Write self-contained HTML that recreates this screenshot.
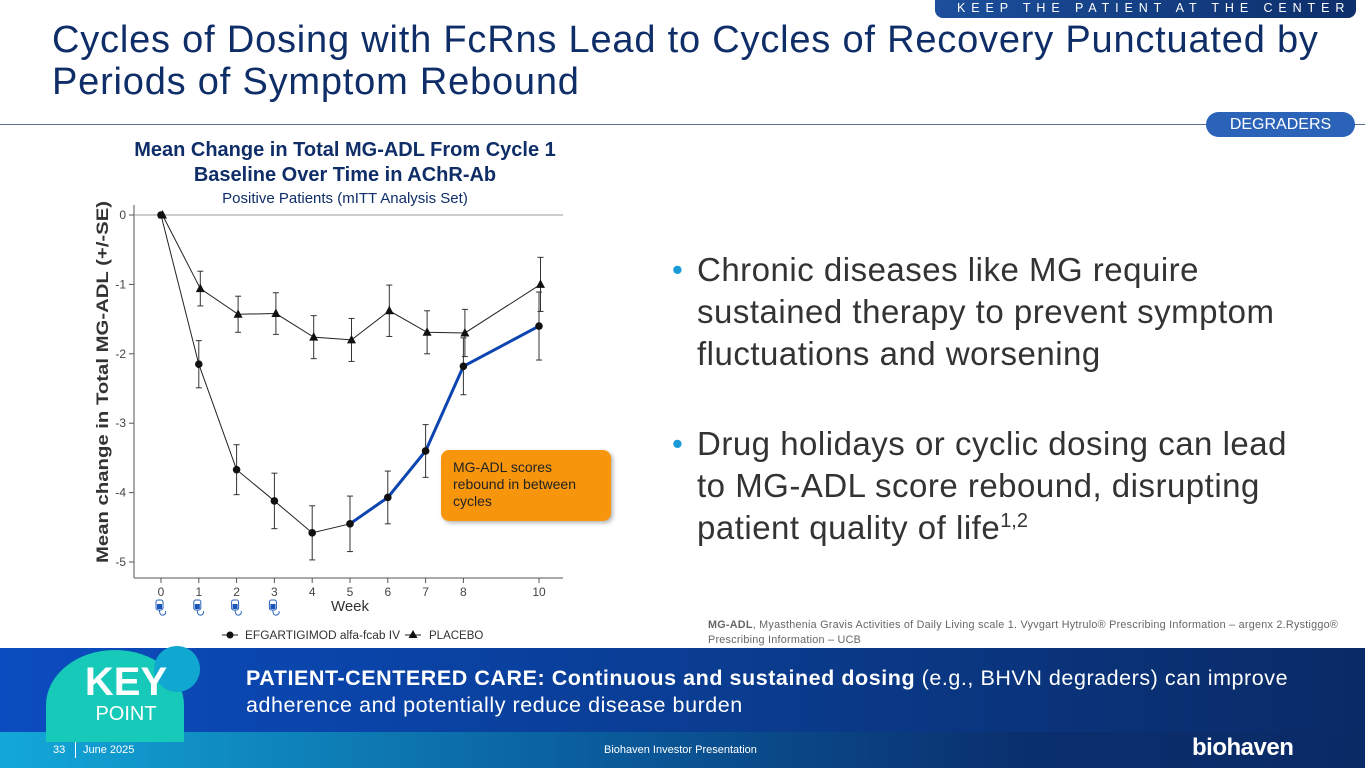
<!DOCTYPE html>
<html><head><meta charset="utf-8">
<style>
*{margin:0;padding:0;box-sizing:border-box}
body{width:1365px;height:768px;overflow:hidden;background:#fff;font-family:"Liberation Sans",Arial,sans-serif;position:relative}
.abs{position:absolute}
</style></head><body>
<div class="abs" style="left:935px;top:0;width:421px;height:18px;background:linear-gradient(90deg,#1c4f9c,#0d2f6b);border-radius:0 0 8px 8px;color:#fff;font-size:12.5px;letter-spacing:5.9px;line-height:17px;padding-left:22px;white-space:nowrap;overflow:hidden">KEEP THE PATIENT AT THE CENTER</div>
<div class="abs" style="left:52px;top:19px;width:1310px;font-size:38px;line-height:42px;color:#0f2e68;white-space:nowrap;letter-spacing:0.8px">Cycles of Dosing with FcRns Lead to Cycles of Recovery Punctuated by<br>Periods of Symptom Rebound</div>
<div class="abs" style="left:0;top:124px;width:1365px;height:1px;background:#5b6f8f"></div>
<div class="abs" style="left:1206px;top:112px;width:149px;height:25px;background:#2a63b8;border-radius:13px;color:#fff;font-size:16px;line-height:25px;text-align:center">DEGRADERS</div>

<div class="abs" style="left:70px;top:138px;width:550px;text-align:center;color:#0f2e68;font-weight:bold;font-size:20px;line-height:25px">Mean Change in Total MG-ADL From Cycle 1<br>Baseline Over Time in AChR-Ab</div>
<div class="abs" style="left:70px;top:190px;width:550px;text-align:center;color:#0f2e68;font-size:15px">Positive Patients (mITT Analysis Set)</div>

<svg class="abs" style="left:0;top:0" width="1365" height="768">
<g id="axes"></g><g id="marks"></g>
</svg>

<div class="abs" style="left:441px;top:450px;width:170px;height:71px;background:#f7960d;border-radius:8px;box-shadow:2px 2px 4px rgba(0,0,0,.3);color:#222;font-size:14px;line-height:17px;padding:9px 12px">MG-ADL scores rebound in between cycles</div>

<div class="abs" style="left:672px;top:249px;width:690px;font-size:33px;line-height:42px;color:#333;padding-left:25px;white-space:nowrap;letter-spacing:0.5px"><span style="position:absolute;left:0;color:#1a9ad6;font-size:31px">•</span>Chronic diseases like MG require<br>sustained therapy to prevent symptom<br>fluctuations and worsening</div>
<div class="abs" style="left:672px;top:423px;width:690px;font-size:33px;line-height:42px;color:#333;padding-left:25px;white-space:nowrap;letter-spacing:0.5px"><span style="position:absolute;left:0;color:#1a9ad6;font-size:31px">•</span>Drug holidays or cyclic dosing can lead<br>to MG-ADL score rebound, disrupting<br>patient quality of life<sup style="font-size:20px;vertical-align:12px;line-height:0;letter-spacing:0">1,2</sup></div>
<div class="abs" style="left:708px;top:618px;width:657px;font-size:10.8px;line-height:15px;color:#666;white-space:nowrap;letter-spacing:0.25px"><b>MG-ADL</b>, Myasthenia Gravis Activities of Daily Living scale 1. Vyvgart Hytrulo® Prescribing Information – argenx 2.Rystiggo®<br>Prescribing Information – UCB</div>

<div class="abs" style="left:0;top:648px;width:1365px;height:84px;background:linear-gradient(90deg,#0b4cc0,#0a3a8a 60%,#0a2a66)"></div>
<div class="abs" style="left:0;top:732px;width:1365px;height:36px;background:linear-gradient(90deg,#12a8d8,#0a5a9a 45%,#0a2f6e 75%,#0a2a66)"></div>
<div class="abs" style="left:46px;top:650px;width:138px;height:110px;border-radius:50% 50% 0 0;background:#16c9b8;clip-path:inset(0 0 18px 0)"></div>
<div class="abs" style="left:154px;top:646px;width:46px;height:46px;border-radius:50%;background:#10a8d0"></div>
<div class="abs" style="left:70px;top:662px;width:112px;text-align:center;color:#fff;font-weight:bold;font-size:40px;line-height:40px">KEY</div>
<div class="abs" style="left:70px;top:703px;width:112px;text-align:center;color:#fff;font-size:20px">POINT</div>
<div class="abs" style="left:246px;top:665px;width:1115px;color:#fff;font-size:21.5px;line-height:27px;white-space:nowrap;letter-spacing:0.55px"><b>PATIENT-CENTERED CARE: Continuous and sustained dosing</b> (e.g., BHVN degraders) can improve<br>adherence and potentially reduce disease burden</div>
<div class="abs" style="left:53px;top:744px;color:#fff;font-size:11px">33</div>
<div class="abs" style="left:75px;top:742px;width:1px;height:16px;background:#fff"></div>
<div class="abs" style="left:83px;top:744px;color:#fff;font-size:11px">June 2025</div>
<div class="abs" style="left:604px;top:744px;color:#fff;font-size:11px">Biohaven Investor Presentation</div>
<div class="abs" style="left:1192px;top:734px;color:#fff;font-size:24px;font-weight:bold;letter-spacing:-0.5px">biohaven</div>

<script>
const weeks=[0,1,2,3,4,5,6,7,8,10];
const efgar=[0,-2.15,-3.67,-4.12,-4.58,-4.45,-4.07,-3.4,-2.18,-1.6];
const efgarSE=[0,0.34,0.36,0.4,0.39,0.4,0.38,0.38,0.41,0.49];
const placebo=[0,-1.06,-1.43,-1.42,-1.76,-1.8,-1.38,-1.69,-1.7,-1.0];
const placeboSE=[0,0.25,0.26,0.3,0.31,0.31,0.37,0.31,0.34,0.39];
const yTicks=[0,-1,-2,-3,-4,-5];
const xTicks=[0,1,2,3,4,5,6,7,8,10];
const doseWeeks=[0,1,2,3];
const reboundStart=5;
const NS='http://www.w3.org/2000/svg';
const X=w=>161+w*37.8;
const Y=v=>215-v*69.4;
const ax=document.getElementById('axes'),mk=document.getElementById('marks');
function el(t,a,p){const e=document.createElementNS(NS,t);for(const k in a)e.setAttribute(k,a[k]);p.appendChild(e);return e;}
let e;
e=el('line',{x1:134,y1:578,x2:563,y2:578,stroke:'#555','stroke-width':1},ax);


e=el('line',{x1:134,y1:205,x2:134,y2:578,stroke:'#555','stroke-width':1},ax);


e=el('line',{x1:134,y1:Y(0),x2:563,y2:Y(0),stroke:'#999','stroke-width':1},ax);


yTicks.forEach(v=>{
 el('line',{x1:129,x2:134,y1:Y(v),y2:Y(v),stroke:'#555'},ax);
 e=el('text',{x:126,y:Y(v)+4,'text-anchor':'end','font-size':12,fill:'#444','font-family':'Liberation Sans'},ax);
 e.textContent=v;
 
 
});
xTicks.forEach(w=>{
 el('line',{x1:X(w),x2:X(w),y1:578,y2:583,stroke:'#555'},ax);
 e=el('text',{x:X(w),y:596,'text-anchor':'middle','font-size':12,fill:'#444','font-family':'Liberation Sans'},ax);
 e.textContent=w;
 
 
});
e=el('text',{x:350,y:611,'text-anchor':'middle','font-size':15,fill:'#333','font-family':'Liberation Sans'},ax);
e.textContent='Week';


e=el('text',{x:0,y:0,transform:'translate(108,382) rotate(-90)','text-anchor':'middle','font-size':17,'font-weight':'bold',fill:'#333','font-family':'Liberation Sans',textLength:362,lengthAdjust:'spacingAndGlyphs'},ax);
e.textContent='Mean change in Total MG-ADL  (+/-SE)';


doseWeeks.forEach(w=>{
 const g=el('g',{transform:`translate(${X(w)-5},600)`},ax);
 
 
 el('rect',{x:0,y:0,width:7,height:10,rx:2,fill:'#fff',stroke:'#2a63b8','stroke-width':1},g);
 el('rect',{x:1,y:4,width:5,height:5,fill:'#1a56b8'},g);
 el('path',{d:'M3.5 10 q0 6 4 5 q3 -1 2 -4',fill:'none',stroke:'#2a63b8','stroke-width':1},g);
});
e=el('polyline',{points:weeks.map((w,i)=>X(w)+','+Y(efgar[i])).join(' '),fill:'none',stroke:'#222','stroke-width':1},mk);


e=el('polyline',{points:weeks.map((w,i)=>(X(w)+1.5)+','+Y(placebo[i])).join(' '),fill:'none',stroke:'#222','stroke-width':1},mk);


e=el('polyline',{points:weeks.map((w,i)=>w>=reboundStart?X(w)+','+Y(efgar[i]):null).filter(Boolean).join(' '),fill:'none',stroke:'#0c44b0','stroke-width':3},mk);


function err(x,v,s){
 if(!s)return;
 el('line',{x1:x,x2:x,y1:Y(v+s),y2:Y(v-s),stroke:'#333'},mk);
 el('line',{x1:x-3,x2:x+3,y1:Y(v+s),y2:Y(v+s),stroke:'#333'},mk);
 el('line',{x1:x-3,x2:x+3,y1:Y(v-s),y2:Y(v-s),stroke:'#333'},mk);
}
weeks.forEach((w,i)=>{
 err(X(w),efgar[i],efgarSE[i]);
 err(X(w)+1.5,placebo[i],placeboSE[i]);
 e=el('circle',{cx:X(w),cy:Y(efgar[i]),r:3.8,fill:'#111'},mk);
 
 
 const px=X(w)+1.5,py=Y(placebo[i]);
 e=el('polygon',{points:`${px},${py-5} ${px-4.5},${py+3.5} ${px+4.5},${py+3.5}`,fill:'#111'},mk);
 
 
});
const lg=el('g',{},ax);


el('line',{x1:222,x2:238,y1:635,y2:635,stroke:'#222'},lg);
el('circle',{cx:230,cy:635,r:3.5,fill:'#111'},lg);
e=el('text',{x:245,y:639,'font-size':11.5,fill:'#333','font-family':'Liberation Sans',textLength:155,lengthAdjust:'spacingAndGlyphs'},lg);e.textContent='EFGARTIGIMOD alfa-fcab IV';
el('line',{x1:405,x2:421,y1:635,y2:635,stroke:'#222'},lg);
el('polygon',{points:'413,630 408.5,638 417.5,638',fill:'#111'},lg);
e=el('text',{x:429,y:639,'font-size':11.5,fill:'#333','font-family':'Liberation Sans'},lg);e.textContent='PLACEBO';
</script>
</body></html>
